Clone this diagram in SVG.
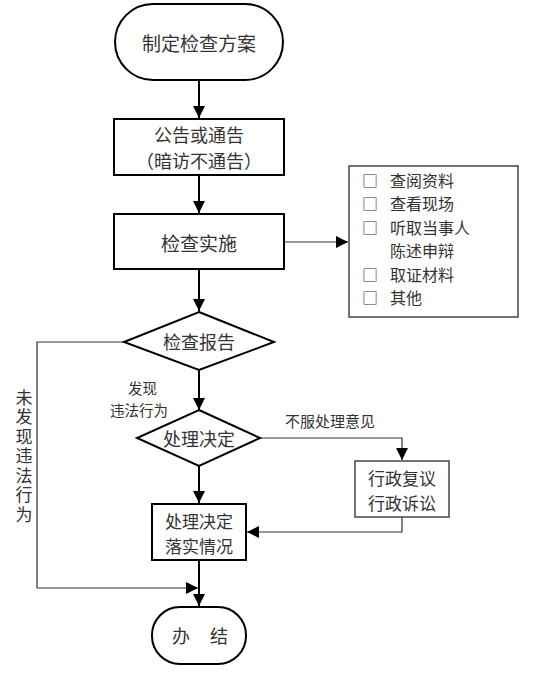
<svg xmlns="http://www.w3.org/2000/svg" width="557" height="684" viewBox="0 0 557 684">
<style>
text{font-family:"Noto Sans CJK SC","Noto Sans",sans-serif;fill:#333;}
.m{font-size:19px;text-anchor:middle;dominant-baseline:central;}
.m2{font-size:18px;text-anchor:middle;dominant-baseline:central;}
.s{font-size:18px;text-anchor:middle;dominant-baseline:central;}
.s2{font-size:17px;text-anchor:middle;dominant-baseline:central;}
.l{font-size:15px;dominant-baseline:central;}
.l2{font-size:14.5px;dominant-baseline:central;}
.c{font-size:16px;dominant-baseline:central;}
.v{font-size:17px;writing-mode:vertical-rl;text-orientation:upright;letter-spacing:2.5px;}
.b{fill:#fff;stroke:#000;stroke-width:2;}
.t{fill:#fff;stroke:#444;stroke-width:1.5;}
.w{fill:none;stroke:#000;stroke-width:2;}
.n{fill:none;stroke:#333;stroke-width:1.2;}
</style>
<defs>
<marker id="A" viewBox="0 0 10 10" refX="10" refY="5" markerWidth="12" markerHeight="12" markerUnits="userSpaceOnUse" orient="auto"><path d="M0,0L10,5L0,10z" fill="#000"/></marker>
</defs>
<rect width="557" height="684" fill="#fff"/>
<g id="connectors">
<line class="w" x1="199" y1="80" x2="199" y2="118" marker-end="url(#A)"/>
<line class="w" x1="199" y1="175" x2="199" y2="213" marker-end="url(#A)"/>
<line class="n" x1="284" y1="242" x2="348" y2="242" marker-end="url(#A)"/>
<line class="w" x1="199" y1="269" x2="199" y2="311" marker-end="url(#A)"/>
<line class="w" x1="199" y1="370" x2="199" y2="410" marker-end="url(#A)"/>
<line class="w" x1="199" y1="466" x2="199" y2="503" marker-end="url(#A)"/>
<line class="w" x1="199" y1="560" x2="199" y2="606" marker-end="url(#A)"/>
<polyline class="n" points="124,342 37,342 37,588 198,588" marker-end="url(#A)"/>
<polyline class="n" points="260,438 402,438 402,460" marker-end="url(#A)"/>
<polyline class="n" points="402,517 402,532 247,532" marker-end="url(#A)"/>
<text class="l2"><tspan x="128" y="387">发现</tspan><tspan x="110" y="408.5">违法行为</tspan></text>
<text class="l" x="285" y="420">不服处理意见</text>
<text class="v" x="24" y="389">未发现违法行为</text>
</g>
<g id="start">
<rect class="b" x="115" y="4" width="168" height="76" rx="38"/>
<text class="m" x="199" y="42">制定检查方案</text>
</g>
<g id="notice">
<rect class="b" x="114" y="119" width="170" height="56"/>
<text class="m2"><tspan x="199" y="134">公告或通告</tspan><tspan x="199" y="160.3">（暗访不通告）</tspan></text>
</g>
<g id="inspect">
<rect class="b" x="114" y="214" width="170" height="55"/>
<text class="m" x="199" y="242">检查实施</text>
</g>
<g id="checklist">
<rect class="t" x="349" y="166" width="169" height="151"/>
<text class="c"><tspan x="362" y="180">□</tspan><tspan x="390" y="180">查阅资料</tspan><tspan x="362" y="203.4">□</tspan><tspan x="390" y="203.4">查看现场</tspan><tspan x="362" y="226.8">□</tspan><tspan x="390" y="226.8">听取当事人</tspan><tspan x="390" y="250.2">陈述申辩</tspan><tspan x="362" y="273.6">□</tspan><tspan x="390" y="273.6">取证材料</tspan><tspan x="362" y="297">□</tspan><tspan x="390" y="297">其他</tspan></text>
</g>
<g id="report">
<polygon class="b" points="199,312 274,342 199,370 124,342"/>
<text class="s" x="199" y="341">检查报告</text>
</g>
<g id="decision">
<polygon class="b" points="199,410 260,438 199,466 137,438"/>
<text class="s" x="199" y="438">处理决定</text>
</g>
<g id="review">
<rect class="t" x="355" y="461" width="94" height="56"/>
<text class="s2"><tspan x="402" y="476.7">行政复议</tspan><tspan x="402" y="501.5">行政诉讼</tspan></text>
</g>
<g id="implement">
<rect class="b" x="152" y="504" width="94" height="56"/>
<text class="s2"><tspan x="199" y="519.7">处理决定</tspan><tspan x="199" y="544.5">落实情况</tspan></text>
</g>
<g id="end">
<rect class="b" x="152" y="607" width="94" height="57" rx="28"/>
<text class="s"><tspan x="181" y="635">办</tspan><tspan x="219" y="635">结</tspan></text>
</g>
</svg>
